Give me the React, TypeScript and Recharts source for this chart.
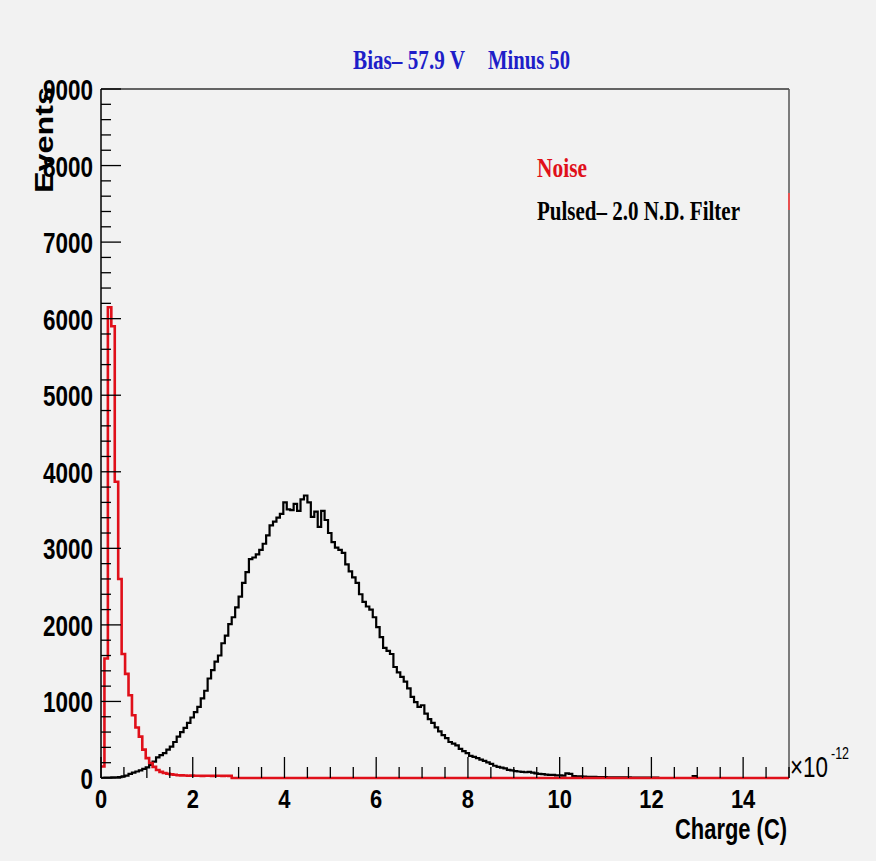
import React from 'react';
import { LineChart, Line, XAxis, YAxis, ReferenceLine } from 'recharts';

// Charge spectra, one bin = 0.075e-12 C, counts.
const BIN_WIDTH = 0.075;
const X_MAX = 15;
const Y_MAX = 9000;

const NOISE_COUNTS = [
  150, 1560, 6150, 5900, 3870, 2600, 1620, 1360, 1080, 820, 660, 540, 370, 260, 195, 145,
  105, 80, 65, 55, 48, 42, 36, 34, 32, 30, 31, 29, 30, 28, 30, 29, 28, 30, 29, 28, 30, 28,
];

const PULSED_COUNTS = [
  3, 5, 6, 8, 10, 12, 20, 30,
  55, 70, 85, 100, 120, 140, 170, 215,
  270, 300, 325, 370, 410, 470, 540, 600,
  655, 720, 790, 860, 930, 1040, 1140, 1300,
  1410, 1520, 1600, 1760, 1860, 2010, 2100, 2230,
  2370, 2550, 2690, 2860, 2880, 2920, 2980, 3060,
  3170, 3300, 3350, 3400, 3450, 3600, 3510, 3500,
  3580, 3490, 3640, 3690, 3600, 3410, 3480, 3280,
  3490, 3370, 3200, 3080, 3010, 2980, 2940, 2790,
  2700, 2620, 2550, 2400, 2300, 2240, 2200, 2100,
  1970, 1840, 1700, 1660, 1620, 1450, 1380, 1320,
  1260, 1170, 1060, 990, 930, 950, 840, 770,
  720, 660, 610, 560, 520, 470, 450, 425,
  380, 350, 325, 290, 275, 260, 240, 225,
  205, 185, 160, 145, 135, 125, 105, 100,
  90, 85, 80, 75, 80, 70, 60, 55,
  50, 45, 40, 40, 35, 35, 30, 60,
  55, 25, 20, 20, 18, 15, 15, 15,
  12, 12, 12, 10, 10, 10, 8, 8,
  8, 8, 6, 6, 6, 5, 5, 5,
  5, 5, 0, 0, 0, 0, 0, 0,
  0, 0, 0, 0, 25, 0,
];

const X_LABELS = [0, 2, 4, 6, 8, 10, 12, 14];
const Y_LABELS = [0, 1000, 2000, 3000, 4000, 5000, 6000, 7000, 8000, 9000];
const X_MINOR_STEP = 0.5;
const Y_MINOR_STEP = 200;

const xTicks: number[] = [];
for (let i = 0; i * X_MINOR_STEP <= X_MAX; i++) xTicks.push(i * X_MINOR_STEP);
const yTicks: number[] = [];
for (let i = 0; i * Y_MINOR_STEP <= Y_MAX; i++) yTicks.push(i * Y_MINOR_STEP);

// histogram -> step points (left bin edges), then run flat along zero to the axis end
const toSteps = (counts: number[]) =>
  counts
    .map((c, i) => ({ x: i * BIN_WIDTH, y: c }))
    .concat([
      { x: counts.length * BIN_WIDTH, y: 0 },
      { x: X_MAX, y: 0 },
    ]);

const noiseData = toSteps(NOISE_COUNTS);
const pulsedData = toSteps(PULSED_COUNTS);

const SANS = '"Liberation Sans Narrow", "Liberation Sans", Arial, sans-serif';
const SERIF = '"Liberation Serif", "Times New Roman", serif';

function XTick(props: any) {
  const { x, y, payload } = props;
  const v = payload.value as number;
  const major = X_LABELS.includes(v);
  const label = String(v);
  return (
    <g>
      <line x1={x} x2={x} y1={y} y2={y - (major ? 21 : 11)} stroke="#000" strokeWidth={1.3} />
      {major && (
        <text
          x={x}
          y={y + 30}
          textAnchor="middle"
          fontFamily={SANS}
          fontWeight="bold"
          fontSize={26}
          fill="#000"
          textLength={12.2 * label.length}
          lengthAdjust="spacingAndGlyphs"
        >
          {label}
        </text>
      )}
    </g>
  );
}

function YTick(props: any) {
  const { x, y, payload } = props;
  const v = payload.value as number;
  const major = Y_LABELS.includes(v);
  const label = String(v);
  return (
    <g>
      <line x1={x} x2={x + (major ? 20 : 10)} y1={y} y2={y} stroke="#000" strokeWidth={1.3} />
      {major && (
        <text
          x={x - 8}
          y={y + 11}
          textAnchor="end"
          fontFamily={SANS}
          fontWeight="bold"
          fontSize={30}
          fill="#000"
          textLength={12.5 * label.length}
          lengthAdjust="spacingAndGlyphs"
        >
          {label}
        </text>
      )}
    </g>
  );
}

export default function App() {
  return (
    <div
      style={{
        position: 'absolute',
        left: 0,
        top: 0,
        width: 876,
        height: 861,
        background: '#f2f2f2',
      }}
    >
      <LineChart width={876} height={861} margin={{ top: 89, right: 87, bottom: 53, left: 41 }}>
        <XAxis
          type="number"
          dataKey="x"
          domain={[0, X_MAX]}
          ticks={xTicks}
          interval={0}
          tickSize={0}
          tickMargin={0}
          tickLine={false}
          tick={<XTick />}
          height={30}
          axisLine={false}
        />
        <YAxis
          type="number"
          domain={[0, Y_MAX]}
          ticks={yTicks}
          interval={0}
          tickSize={0}
          tickMargin={0}
          tickLine={false}
          tick={<YTick />}
          width={60}
          axisLine={{ stroke: '#000', strokeWidth: 1.5 }}
        />
        <ReferenceLine y={Y_MAX} stroke="#333" strokeWidth={1.5} ifOverflow="visible" />
        <ReferenceLine x={X_MAX} stroke="#555" strokeWidth={1.5} ifOverflow="visible" />
        <Line
          data={pulsedData}
          dataKey="y"
          type="stepAfter"
          stroke="#000"
          strokeWidth={2.2}
          dot={false}
          isAnimationActive={false}
        />
        <Line
          data={noiseData}
          dataKey="y"
          type="stepAfter"
          stroke="#e0101a"
          strokeWidth={2.6}
          dot={false}
          isAnimationActive={false}
        />
      </LineChart>

      <svg
        width={876}
        height={861}
        style={{ position: 'absolute', left: 0, top: 0, pointerEvents: 'none' }}
      >
        <text x={353} y={69} fontFamily={SERIF} fontWeight="bold" fontSize={27} fill="#1e1ec8" textLength={112} lengthAdjust="spacingAndGlyphs">
          Bias– 57.9 V
        </text>
        <text x={488} y={69} fontFamily={SERIF} fontWeight="bold" fontSize={27} fill="#1e1ec8" textLength={82} lengthAdjust="spacingAndGlyphs">
          Minus 50
        </text>
        <text x={537} y={177} fontFamily={SERIF} fontWeight="bold" fontSize={28} fill="#e0101a" textLength={50} lengthAdjust="spacingAndGlyphs">
          Noise
        </text>
        <text x={537} y={220} fontFamily={SERIF} fontWeight="bold" fontSize={28} fill="#000" textLength={203} lengthAdjust="spacingAndGlyphs">
          Pulsed– 2.0 N.D. Filter
        </text>
        <line x1={789} x2={789} y1={193} y2={210} stroke="#e85050" strokeWidth={2} />
        <text
          x={53}
          y={140}
          transform="rotate(-90 53 140)"
          textAnchor="middle"
          fontFamily={SANS}
          fontWeight="bold"
          fontSize={26}
          fill="#000"
          textLength={106}
          lengthAdjust="spacingAndGlyphs"
        >
          Events
        </text>
        <text
          x={787}
          y={839}
          textAnchor="end"
          fontFamily={SANS}
          fontWeight="bold"
          fontSize={29}
          fill="#000"
          textLength={112}
          lengthAdjust="spacingAndGlyphs"
        >
          Charge (C)
        </text>
        <text x={790} y={777} fontFamily={SANS} fontSize={30} fill="#000" textLength={38} lengthAdjust="spacingAndGlyphs">
          ×10
        </text>
        <text x={831} y={759} fontFamily={SANS} fontSize={16} fill="#000" textLength={18} lengthAdjust="spacingAndGlyphs">
          -12
        </text>
      </svg>
    </div>
  );
}
